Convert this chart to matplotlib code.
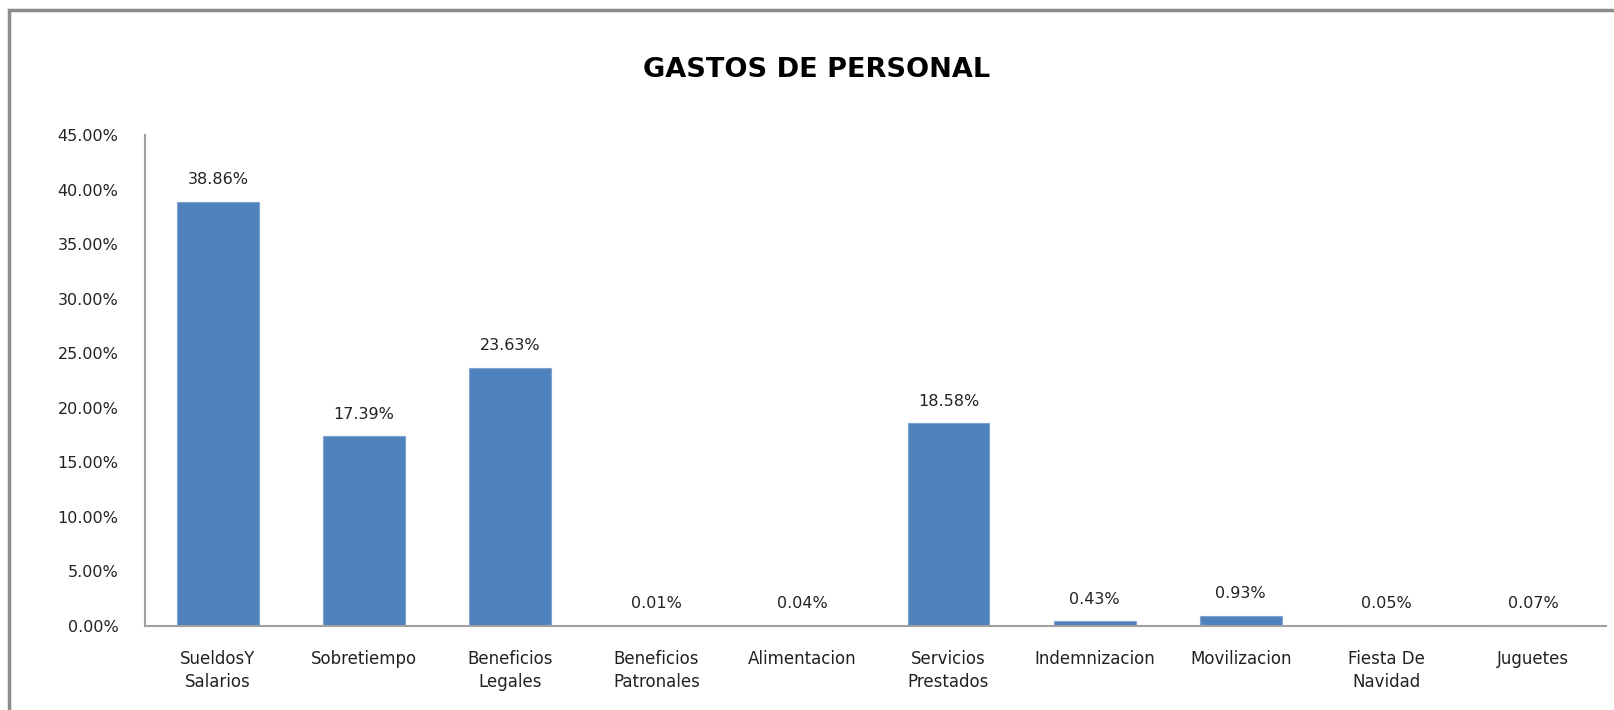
import numpy as np
import matplotlib
matplotlib.use("Agg")
from matplotlib import pyplot as plt
from matplotlib.patches import Rectangle
from matplotlib.ticker import FuncFormatter

# Chart data
categories = ["SueldosY\nSalarios", "Sobretiempo", "Beneficios\nLegales",
              "Beneficios\nPatronales", "Alimentacion", "Servicios\nPrestados",
              "Indemnizacion", "Movilizacion", "Fiesta De\nNavidad", "Juguetes"]
values = [38.86, 17.39, 23.63, 0.01, 0.04, 18.58, 0.43, 0.93, 0.05, 0.07]
yticks = [0, 5, 10, 15, 20, 25, 30, 35, 40, 45]

title = "GASTOS DE PERSONAL"

plt.rcParams['font.family'] = 'DejaVu Sans'

fig = plt.figure(figsize=(16.14, 7.10), dpi=100)

# Outer chart frame (cut off at right and bottom as in the original)
fig.patches.append(Rectangle((9 / 1614, -0.05), 1.2, 700 / 710 + 0.05,
                             transform=fig.transFigure, fill=False,
                             edgecolor='#8c8c8c', linewidth=2.5, zorder=0))

ax = fig.add_axes([145 / 1614, 84 / 710, (1606 - 145) / 1614, (626 - 135) / 710])

ind = np.arange(len(categories))
bars = ax.bar(ind, values, 0.56, color='#4F81BD', edgecolor='#7FA3D1', linewidth=0.8)

for b, v in zip(bars, values):
    ax.annotate("%.2f%%" % v, (b.get_x() + b.get_width() / 2, v),
                xytext=(0, 16), textcoords='offset points',
                ha='center', va='center', fontsize=11.5, color='#222222')

ax.set_xlim(-0.5, len(categories) - 0.5)
ax.set_ylim(0, 45)
ax.set_yticks(yticks)
ax.yaxis.set_major_formatter(FuncFormatter(lambda y, p: "%.2f%%" % y))
ax.set_xticks(ind)
ax.set_xticklabels(categories, linespacing=1.35, fontsize=12)

ax.tick_params(axis='both', length=0, colors='#222222')
ax.tick_params(axis='y', pad=19, labelsize=11.5)
ax.tick_params(axis='x', pad=17)

for s in ['top', 'right']:
    ax.spines[s].set_visible(False)
for s in ['left', 'bottom']:
    ax.spines[s].set_color('#a0a0a0')
    ax.spines[s].set_linewidth(1.5)

fig.text(817 / 1614, 1 - 70 / 710, title, ha='center', va='center',
         fontsize=19.5, fontweight='bold')

plt.savefig("out.png", dpi=100)
